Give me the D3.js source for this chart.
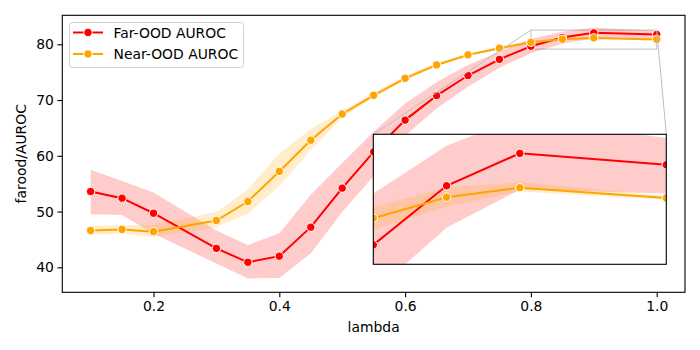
<!DOCTYPE html>
<html>
<head>
<meta charset="utf-8">
<script src="https://cdn.jsdelivr.net/npm/d3@7"></script>
<style>
  body { margin: 0; background: #fff; }
  svg text { font-family: "DejaVu Sans", sans-serif; fill: #000; }
</style>
</head>
<body>
<div id="chart"></div>
<script>
// lambda values that were swept
const lambdas = [0.1, 0.15, 0.2, 0.3, 0.35, 0.4, 0.45, 0.5, 0.55, 0.6, 0.65, 0.7, 0.75, 0.8, 0.85, 0.9, 1.0];

// Far-OOD AUROC: mean and band
const farMean = [53.6, 52.4, 49.7, 43.4, 40.9, 42.0, 47.2, 54.2, 60.7, 66.4, 70.8, 74.4, 77.3, 79.65, 81.2, 82.05, 81.75];
const farLow  = [49.5, 49.4, 46.0, 40.7, 38.0, 38.1, 42.5, 49.9, 56.4, 63.6, 68.5, 72.4, 75.8, 78.4, 80.1, 81.1, 81.0];
const farHigh = [57.5, 55.5, 53.4, 46.6, 44.0, 46.1, 53.0, 58.7, 64.3, 69.4, 73.2, 76.3, 78.7, 81.0, 82.25, 83.0, 82.45];

// Near-OOD AUROC: mean and band
const nearMean = [46.6, 46.8, 46.4, 48.4, 51.8, 57.2, 62.8, 67.5, 70.85, 73.9, 76.3, 78.1, 79.3, 80.35, 80.9, 81.15, 80.88];
const nearLow  = [45.9, 46.0, 45.4, 47.2, 49.6, 54.6, 61.0, 66.9, 70.4, 73.5, 76.0, 77.8, 79.0, 80.05, 80.65, 81.05, 80.83];
const nearHigh = [47.4, 47.6, 47.6, 49.9, 54.0, 60.4, 64.8, 68.1, 71.3, 74.3, 76.7, 78.4, 79.6, 80.65, 81.15, 81.3, 80.93];

const xTicks = [0.2, 0.4, 0.6, 0.8, 1.0];
const yTicks = [40, 50, 60, 70, 80];

// zoomed window of the inset
const insetX = [0.8, 1.0];
const insetY = [79.14, 82.55];

const series = [
  {name: "Far-OOD AUROC", color: "red", mean: farMean, low: farLow, high: farHigh},
  {name: "Near-OOD AUROC", color: "orange", mean: nearMean, low: nearLow, high: nearHigh}
];

const W = 700, H = 350;
const svg = d3.select("#chart").append("svg").attr("width", W).attr("height", H);

const x = d3.scaleLinear().domain([0.055, 1.045]).range([62.3, 685]);
const y = d3.scaleLinear().domain([35.52, 85.2]).range([292.3, 15.3]);

const xi = d3.scaleLinear().domain(insetX).range([373.3, 666.3]);
const yi = d3.scaleLinear().domain(insetY).range([264.3, 134.3]);

svg.append("defs").selectAll("clipPath")
  .data([["clipMain", x, y], ["clipInset", xi, yi]])
  .join("clipPath").attr("id", d => d[0])
  .append("rect")
  .attr("x", d => d[1].range()[0]).attr("y", d => d[2].range()[1])
  .attr("width", d => d[1].range()[1] - d[1].range()[0])
  .attr("height", d => d[2].range()[0] - d[2].range()[1]);

function drawSeries(g, sx, sy) {
  const area = d3.area().x((d, i) => sx(lambdas[i])).y0(d => sy(d[0])).y1(d => sy(d[1]));
  const line = d3.line().x((d, i) => sx(lambdas[i])).y(d => sy(d));
  series.forEach(s => {
    g.append("path")
      .attr("d", area(s.low.map((v, i) => [v, s.high[i]])))
      .attr("fill", s.color).attr("fill-opacity", 0.2);
  });
  series.forEach(s => {
    g.append("path").attr("d", line(s.mean))
      .attr("fill", "none").attr("stroke", s.color).attr("stroke-width", 2);
    g.append("g").selectAll("circle").data(s.mean).join("circle")
      .attr("cx", (d, i) => sx(lambdas[i])).attr("cy", d => sy(d))
      .attr("r", 4.2).attr("fill", s.color)
      .attr("stroke", "#fff").attr("stroke-width", 1);
  });
}

// zoom rectangle in main axes (under the data)
const mainG = svg.append("g");
mainG.append("rect")
  .attr("x", x(insetX[0])).attr("y", y(insetY[1]))
  .attr("width", x(insetX[1]) - x(insetX[0]))
  .attr("height", y(insetY[0]) - y(insetY[1]))
  .attr("fill", "none").attr("stroke", "#bfbfbf").attr("stroke-width", 1);

drawSeries(mainG.append("g").attr("clip-path", "url(#clipMain)"), x, y);

// axes
svg.append("g").attr("transform", `translate(0,${y.range()[0]})`)
  .call(d3.axisBottom(x).tickValues(xTicks).tickFormat(d3.format(".1f")).tickSize(4.9).tickPadding(3.5))
  .call(g => g.select(".domain").remove())
  .call(g => g.selectAll("text").attr("font-size", 13.9).attr("fill", "#000"));

svg.append("g").attr("transform", `translate(${x.range()[0]},0)`)
  .call(d3.axisLeft(y).tickValues(yTicks).tickSize(4.9).tickPadding(3.5))
  .call(g => g.select(".domain").remove())
  .call(g => g.selectAll("text").attr("font-size", 13.9).attr("fill", "#000"));

svg.selectAll(".tick line").attr("stroke", "#000").attr("stroke-width", 1.1);

svg.append("rect")
  .attr("x", x.range()[0]).attr("y", y.range()[1])
  .attr("width", x.range()[1] - x.range()[0]).attr("height", y.range()[0] - y.range()[1])
  .attr("fill", "none").attr("stroke", "#000").attr("stroke-width", 1.1);

svg.append("text").attr("x", (x.range()[0] + x.range()[1]) / 2).attr("y", 332)
  .attr("text-anchor", "middle").attr("font-size", 13.9).text("lambda");

svg.append("text")
  .attr("transform", `translate(26,${(y.range()[0] + y.range()[1]) / 2}) rotate(-90)`)
  .attr("text-anchor", "middle").attr("font-size", 13.9).text("farood/AUROC");

// connectors from zoom box to inset
svg.append("g").selectAll("line")
  .data([[insetX[0], insetY[1]], [insetX[1], insetY[1]]])
  .join("line")
  .attr("x1", d => x(d[0])).attr("y1", d => y(d[1]))
  .attr("x2", d => xi(d[0])).attr("y2", d => yi(d[1]))
  .attr("stroke", "#bfbfbf").attr("stroke-width", 1);

// inset axes
const insetG = svg.append("g");
insetG.append("rect")
  .attr("x", xi.range()[0]).attr("y", yi.range()[1])
  .attr("width", xi.range()[1] - xi.range()[0]).attr("height", yi.range()[0] - yi.range()[1])
  .attr("fill", "#fff");
drawSeries(insetG.append("g").attr("clip-path", "url(#clipInset)"), xi, yi);
insetG.append("rect")
  .attr("x", xi.range()[0]).attr("y", yi.range()[1])
  .attr("width", xi.range()[1] - xi.range()[0]).attr("height", yi.range()[0] - yi.range()[1])
  .attr("fill", "none").attr("stroke", "#000").attr("stroke-width", 1.1);

// legend
const leg = svg.append("g");
leg.append("rect").attr("x", 69.5).attr("y", 22.5).attr("width", 174).attr("height", 45)
  .attr("rx", 3).attr("fill", "#fff").attr("fill-opacity", 0.8)
  .attr("stroke", "#d0d0d0").attr("stroke-width", 1);
series.forEach((s, i) => {
  const cy = 32.5 + i * 21.5;
  leg.append("line").attr("x1", 73).attr("x2", 103).attr("y1", cy).attr("y2", cy)
    .attr("stroke", s.color).attr("stroke-width", 2);
  leg.append("circle").attr("cx", 88).attr("cy", cy).attr("r", 4.2)
    .attr("fill", s.color).attr("stroke", "#fff").attr("stroke-width", 1);
  leg.append("text").attr("x", 113.5).attr("y", cy + 5).attr("font-size", 13.9).text(s.name);
});
</script>
</body>
</html>
